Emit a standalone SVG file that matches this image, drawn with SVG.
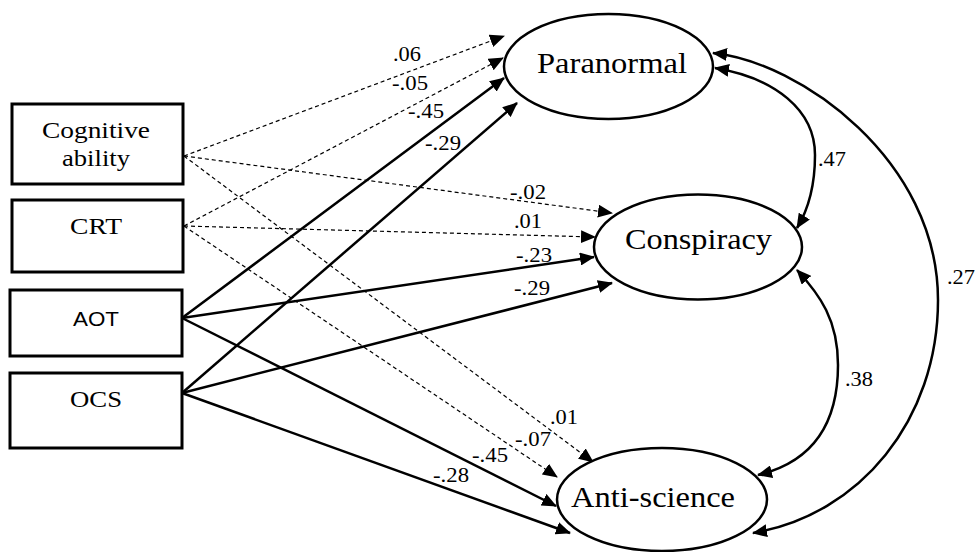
<svg xmlns="http://www.w3.org/2000/svg" width="978" height="552" viewBox="0 0 978 552">
<style>
  .box { fill: #fff; stroke: #000; stroke-width: 3; }
  .ell { fill: #fff; stroke: #000; stroke-width: 2.5; }
  .serif { font-family: "Liberation Serif", "Times New Roman", serif; fill: #000; }
  .sans { font-family: "Liberation Sans", Arial, sans-serif; fill: #000; }
  .big { font-size: 29px; }
  .lab { font-size: 20.5px; }
  .s { fill: none; stroke: #000; stroke-width: 2.5; marker-end: url(#ah); }
  .d { fill: none; stroke: #000; stroke-width: 1.2; stroke-dasharray: 4 3; marker-end: url(#ah); }
  .c { fill: none; stroke: #000; stroke-width: 2.5; marker-start: url(#ah); marker-end: url(#ah); }
</style>
<defs>
  <marker id="ah" markerUnits="userSpaceOnUse" markerWidth="16" markerHeight="13" refX="14" refY="6.5" orient="auto-start-reverse">
    <path d="M0,0 L15,6.5 L0,13 z" fill="#000"/>
  </marker>
</defs>
<rect width="978" height="552" fill="#fff"/>

<g id="connectors">
  <path class="d" d="M184,156 L504,36"/>
  <path class="d" d="M184,226 L503,58"/>
  <path class="s" d="M182,318 L504,78"/>
  <path class="s" d="M182,393 L517,103"/>
  <path class="d" d="M184,156 L612,213"/>
  <path class="d" d="M184,226 L595,237"/>
  <path class="s" d="M182,318 L594,257"/>
  <path class="s" d="M182,393 L612,283"/>
  <path class="d" d="M184,156 L593,462"/>
  <path class="d" d="M184,226 L557,477"/>
  <path class="s" d="M182,318 L556,506"/>
  <path class="s" d="M182,393 L570,533"/>
  <path class="c" d="M715,68 C775,78 815,110 815,155 C815,185 808,210 797,228"/>
  <path class="c" d="M797,270 C820,295 838,320 838,365 C838,425 812,462 758,475"/>
  <path class="c" d="M713,53 C800,62 938,160 938,300 C938,420 860,515 753,533"/>
  <g class="serif lab">
    <text x="393" y="61" textLength="28" lengthAdjust="spacingAndGlyphs">.06</text>
    <text x="392" y="90" textLength="36" lengthAdjust="spacingAndGlyphs">-.05</text>
    <text x="408" y="118" textLength="36" lengthAdjust="spacingAndGlyphs">-.45</text>
    <text x="425" y="150" textLength="36" lengthAdjust="spacingAndGlyphs">-.29</text>
    <text x="510" y="199" textLength="36" lengthAdjust="spacingAndGlyphs">-.02</text>
    <text x="514" y="228" textLength="28" lengthAdjust="spacingAndGlyphs">.01</text>
    <text x="516" y="262" textLength="36" lengthAdjust="spacingAndGlyphs">-.23</text>
    <text x="514" y="295" textLength="36" lengthAdjust="spacingAndGlyphs">-.29</text>
    <text x="550" y="424" textLength="28" lengthAdjust="spacingAndGlyphs">.01</text>
    <text x="515" y="446" textLength="36" lengthAdjust="spacingAndGlyphs">-.07</text>
    <text x="472" y="462" textLength="36" lengthAdjust="spacingAndGlyphs">-.45</text>
    <text x="433" y="482" textLength="36" lengthAdjust="spacingAndGlyphs">-.28</text>
    <text x="818" y="166" textLength="28" lengthAdjust="spacingAndGlyphs">.47</text>
    <text x="845" y="386" textLength="28" lengthAdjust="spacingAndGlyphs">.38</text>
    <text x="947" y="284" textLength="28" lengthAdjust="spacingAndGlyphs">.27</text>
  </g>
</g>

<g id="cognitive">
  <rect class="box" x="12" y="104" width="171" height="80"/>
  <text class="serif" font-size="24" x="42" y="138" textLength="108" lengthAdjust="spacingAndGlyphs">Cognitive</text>
  <text class="serif" font-size="24" x="62" y="166" textLength="68" lengthAdjust="spacingAndGlyphs">ability</text>
</g>
<g id="crt">
  <rect class="box" x="12" y="200" width="171" height="72"/>
  <text class="serif" font-size="23" x="70" y="234" textLength="52" lengthAdjust="spacingAndGlyphs">CRT</text>
</g>
<g id="aot">
  <rect class="box" x="10" y="290" width="172" height="66"/>
  <text class="sans" font-size="20" x="73" y="326" textLength="46" lengthAdjust="spacingAndGlyphs">AOT</text>
</g>
<g id="ocs">
  <rect class="box" x="10" y="373" width="172" height="75"/>
  <text class="serif" font-size="23" x="70" y="407" textLength="52" lengthAdjust="spacingAndGlyphs">OCS</text>
</g>

<g id="paranormal">
  <ellipse class="ell" cx="608.5" cy="66.5" rx="104.5" ry="52.5"/>
  <text class="serif big" x="537" y="73" textLength="150" lengthAdjust="spacingAndGlyphs">Paranormal</text>
</g>
<g id="conspiracy">
  <ellipse class="ell" cx="698" cy="247" rx="104" ry="52.5"/>
  <text class="serif big" x="625" y="249" textLength="147" lengthAdjust="spacingAndGlyphs">Conspiracy</text>
</g>
<g id="antiscience">
  <ellipse class="ell" cx="662" cy="499.5" rx="105" ry="51.5"/>
  <text class="serif big" x="571" y="507" textLength="164" lengthAdjust="spacingAndGlyphs">Anti-science</text>
</g>
</svg>
